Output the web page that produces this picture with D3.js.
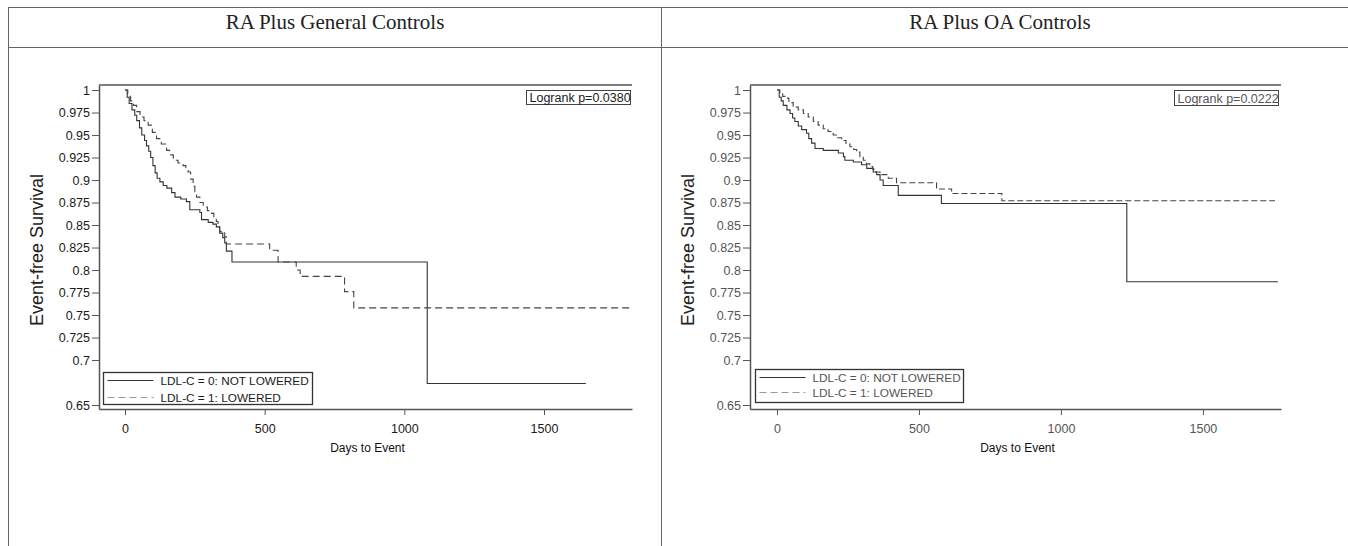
<!DOCTYPE html>
<html>
<head>
<meta charset="utf-8">
<script src="https://cdn.jsdelivr.net/npm/d3@7"></script>
<style>
  body { margin: 0; background: #fff; }
  svg { display: block; }
</style>
</head>
<body>
<div id="container"></div>
<script>
const panelTitles = ["RA Plus General Controls", "RA Plus OA Controls"]
const groupLabels = ["LDL-C = 0: NOT LOWERED", "LDL-C = 1: LOWERED"]
const logrankLabels = ["Logrank p=0.0380", "Logrank p=0.0222"]
const yTicks = [1, 0.975, 0.95, 0.925, 0.9, 0.875, 0.85, 0.825, 0.8, 0.775, 0.75, 0.725, 0.7, 0.65]
const xTicks = [0, 500, 1000, 1500]

// [day, survival] after each step
const generalNotLowered = [
  [0, 1], [8, 0.992], [15, 0.985], [25, 0.978], [35, 0.972], [42, 0.966], [52, 0.958], [60, 0.95],
  [70, 0.944], [77, 0.938], [85, 0.932], [92, 0.925], [100, 0.916], [108, 0.908], [115, 0.902],
  [125, 0.898], [137, 0.894], [150, 0.891], [167, 0.886], [179, 0.881], [200, 0.879], [220, 0.876],
  [232, 0.867], [268, 0.864], [274, 0.856], [298, 0.853], [315, 0.851], [327, 0.848], [339, 0.841],
  [350, 0.836], [357, 0.83], [363, 0.821], [383, 0.809], [1082, 0.674], [1650, 0.674]
]
const generalLowered = [
  [0, 1], [10, 0.993], [20, 0.988], [30, 0.983], [42, 0.976], [54, 0.97], [68, 0.966], [83, 0.961],
  [98, 0.953], [113, 0.946], [130, 0.94], [149, 0.933], [160, 0.928], [173, 0.922], [190, 0.919],
  [208, 0.916], [218, 0.912], [226, 0.909], [235, 0.901], [244, 0.893], [250, 0.887], [256, 0.881],
  [268, 0.875], [280, 0.87], [295, 0.866], [310, 0.863], [318, 0.858], [327, 0.854], [333, 0.849],
  [339, 0.843], [357, 0.837], [363, 0.829], [518, 0.822], [548, 0.809], [613, 0.8], [627, 0.793],
  [786, 0.776], [819, 0.758], [1812, 0.758]
]
const oaNotLowered = [
  [0, 1], [8, 0.992], [15, 0.988], [22, 0.983], [35, 0.978], [46, 0.974], [55, 0.969], [63, 0.965],
  [75, 0.96], [87, 0.956], [104, 0.952], [112, 0.946], [122, 0.941], [134, 0.935], [163, 0.933],
  [216, 0.93], [234, 0.926], [239, 0.922], [269, 0.92], [298, 0.917], [316, 0.913], [339, 0.909],
  [351, 0.906], [363, 0.9], [374, 0.894], [427, 0.883], [579, 0.874], [1232, 0.787], [1764, 0.787]
]
const oaLowered = [
  [0, 1], [10, 0.996], [20, 0.993], [28, 0.991], [42, 0.986], [57, 0.981], [75, 0.978], [93, 0.974],
  [110, 0.97], [128, 0.965], [145, 0.961], [163, 0.957], [180, 0.954], [198, 0.95], [213, 0.947],
  [228, 0.944], [243, 0.94], [257, 0.937], [270, 0.934], [281, 0.931], [292, 0.926], [304, 0.922],
  [315, 0.918], [327, 0.915], [337, 0.912], [345, 0.909], [363, 0.906], [392, 0.902], [421, 0.897],
  [562, 0.89], [615, 0.885], [792, 0.877], [1754, 0.877]
]

const width = 1348
const height = 546

const svg = d3.create("svg")
    .attr("width", width)
    .attr("height", height)
    .style("font-family", "'Liberation Sans', Arial, sans-serif")

// table grid
const grid = svg.append("g").attr("stroke", "#666").attr("stroke-width", 1)
grid.append("line").attr("x1", 8).attr("x2", width).attr("y1", 7.5).attr("y2", 7.5)
grid.append("line").attr("x1", 8).attr("x2", width).attr("y1", 47.5).attr("y2", 47.5)
grid.append("line").attr("x1", 8.5).attr("x2", 8.5).attr("y1", 7).attr("y2", height)
grid.append("line").attr("x1", 661.5).attr("x2", 661.5).attr("y1", 7).attr("y2", height)

svg.selectAll(".cell-title")
    .data(panelTitles)
    .enter()
    .append("text")
    .attr("class", "cell-title")
    .attr("x", (d, i) => i == 0 ? 335 : 1000)
    .attr("y", 29)
    .attr("text-anchor", "middle")
    .style("font-family", "'Liberation Serif', 'Times New Roman', serif")
    .style("font-size", "21px")
    .style("fill", "#222")
    .text(d => d)

function drawPanel(opts){
    const x = d3.scaleLinear().domain(opts.xDomain).range([opts.left, opts.right])
    const y = d3.scaleLinear().domain([0.6456, 1.0056]).range([409, 85])
    const g = svg.append("g")
    const textColor = opts.textColor

    // frame: top line
    g.append("line")
        .attr("x1", opts.left).attr("x2", opts.right)
        .attr("y1", 85).attr("y2", 85)
        .attr("stroke", "#555").attr("stroke-width", 1.5)

    const yAxis = g.append("g")
        .attr("transform", `translate(${opts.left},0)`)
        .call(d3.axisLeft(y).tickValues(yTicks).tickSize(7).tickSizeOuter(0).tickPadding(2).tickFormat(d => String(d)))
    const xAxis = g.append("g")
        .attr("transform", `translate(0,409)`)
        .call(d3.axisBottom(x).tickValues(xTicks).tickSize(6).tickSizeOuter(0).tickPadding(9).tickFormat(d3.format("d")))

    for (const ax of [yAxis, xAxis]){
        ax.select(".domain").attr("stroke", "#555").attr("stroke-width", 1.5)
        ax.selectAll(".tick line").attr("stroke", "#555")
        ax.selectAll(".tick text")
            .style("font-family", "'Liberation Sans', Arial, sans-serif")
            .style("font-size", "12.5px")
            .attr("fill", textColor)
    }

    g.append("text")
        .attr("transform", `translate(${opts.left - 62},250) rotate(-90)`)
        .attr("text-anchor", "middle")
        .attr("dy", "0.35em")
        .style("font-size", "18px")
        .attr("fill", "#222")
        .text("Event-free Survival")

    g.append("text")
        .attr("x", (opts.left + opts.right) / 2 + 2)
        .attr("y", 452)
        .attr("text-anchor", "middle")
        .style("font-size", "12px")
        .attr("fill", "#111")
        .text("Days to Event")

    const line = d3.line()
        .x(d => x(d[0]))
        .y(d => y(d[1]))
        .curve(d3.curveStepAfter)

    g.append("path")
        .datum(opts.series[0])
        .attr("d", line)
        .attr("fill", "none")
        .attr("stroke", "#333")
        .attr("stroke-width", 1.1)

    g.append("path")
        .datum(opts.series[1])
        .attr("d", line)
        .attr("fill", "none")
        .attr("stroke", "#444")
        .attr("stroke-width", 1.1)
        .attr("stroke-dasharray", opts.dash)

    // logrank box
    const lr = g.append("g").attr("transform", `translate(${opts.lrBox[0]},${opts.lrBox[1]})`)
    lr.append("rect")
        .attr("width", opts.lrBox[2]).attr("height", opts.lrBox[3])
        .attr("fill", "#fff").attr("stroke", "#444").attr("stroke-width", 1)
    lr.append("text")
        .attr("x", 3).attr("y", opts.lrBox[3] - 3)
        .style("font-size", "12.5px")
        .attr("fill", textColor)
        .text(opts.logrank)

    // legend
    const lg = g.append("g").attr("transform", `translate(${opts.legend[0]},${opts.legend[1]})`)
    lg.append("rect")
        .attr("width", opts.legend[2]).attr("height", opts.legend[3])
        .attr("fill", "#fff").attr("stroke", "#333").attr("stroke-width", 1.3)
    const item = lg.selectAll(".item")
        .data(groupLabels)
        .enter()
        .append("g")
        .attr("class", "item")
        .attr("transform", (d, i) => `translate(0,${8 + i * opts.legendStep})`)
    item.append("line")
        .attr("x1", 4).attr("x2", 50)
        .attr("stroke", (d, i) => i == 0 ? "#333" : "#999")
        .attr("stroke-width", 1.2)
        .attr("stroke-dasharray", (d, i) => i == 0 ? null : "7,4")
    item.append("text")
        .attr("x", 57)
        .attr("dy", "0.35em")
        .style("font-size", "11.8px")
        .attr("fill", textColor)
        .text(d => d)
}

drawPanel({
    left: 99, right: 632, xDomain: [-93, 1815],
    series: [generalNotLowered, generalLowered],
    logrank: logrankLabels[0],
    lrBox: [526.5, 90.5, 104, 14],
    legend: [103.5, 372.5, 209, 32],
    legendStep: 17,
    dash: "7,4",
    textColor: "#1a1a1a"
})

drawPanel({
    left: 750, right: 1281, xDomain: [-95, 1775],
    series: [oaNotLowered, oaLowered],
    logrank: logrankLabels[1],
    lrBox: [1174.5, 90.5, 104, 15],
    legend: [755.5, 369.5, 208, 33],
    legendStep: 15,
    dash: "6,3",
    textColor: "#555"
})

document.querySelector("#container").appendChild(svg.node())
</script>
</body>
</html>
